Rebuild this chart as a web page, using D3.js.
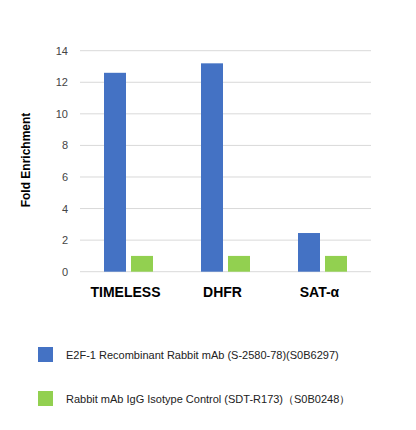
<!DOCTYPE html>
<html><head><meta charset="utf-8">
<script src="https://cdn.jsdelivr.net/npm/d3@7"></script>
<style>body{margin:0;background:#fff}text{font-family:Arial,"Liberation Sans",sans-serif}</style>
</head><body>
<script>
// data
var categories = ["TIMELESS", "DHFR", "SAT-α"];
var e2f1 = [12.6, 13.2, 2.45];
var igg = [1, 1, 1];
var yTicks = [0, 2, 4, 6, 8, 10, 12, 14];
var seriesNames = ["E2F-1 Recombinant Rabbit mAb (S-2580-78)(S0B6297)", "Rabbit mAb IgG Isotype Control (SDT-R173)（S0B0248）"];
var colors = ["#4472c4", "#92d050"];

var svg = d3.select("body").append("svg").attr("width", 416).attr("height", 430);

var x = d3.scaleBand().domain(categories).range([80, 371]);
var y = d3.scaleLinear().domain([0, 14]).range([271.7, 50.7]);

// grid
svg.selectAll(".grid").data(yTicks).enter().append("line")
  .attr("x1", 80).attr("x2", 371)
  .attr("y1", d => y(d)).attr("y2", d => y(d))
  .attr("stroke", "#d9d9d9").attr("stroke-width", 1);

svg.selectAll(".ytick").data(yTicks).enter().append("text")
  .attr("x", 68).attr("y", d => y(d) + 4).attr("text-anchor", "end")
  .attr("font-size", 11).attr("fill", "#444").text(d => d);

// bars
var series = [e2f1, igg];
series.forEach(function(vals, s) {
  svg.selectAll(".bar" + s).data(vals).enter().append("rect")
    .attr("x", (d, i) => x(categories[i]) + 24 + s * 27)
    .attr("width", 22)
    .attr("y", d => y(d))
    .attr("height", d => y(0) - y(d))
    .attr("fill", colors[s]);
});

svg.selectAll(".xlab").data(categories).enter().append("text")
  .attr("x", d => x(d) + x.bandwidth() / 2 - 3).attr("y", 297)
  .attr("text-anchor", "middle").attr("font-size", 14).attr("font-weight", "bold")
  .text(d => d);

svg.append("text").attr("transform", "translate(30,160) rotate(-90)")
  .attr("text-anchor", "middle").attr("font-size", 12).attr("font-weight", "bold")
  .text("Fold Enrichment");

// legend
seriesNames.forEach(function(n, i) {
  var ly = 347 + i * 44;
  svg.append("rect").attr("x", 38).attr("y", ly).attr("width", 15).attr("height", 15).attr("fill", colors[i]);
  svg.append("text").attr("x", 66).attr("y", ly + 12).attr("font-size", 11).attr("fill", "#222").text(n);
});
</script>
</body></html>
